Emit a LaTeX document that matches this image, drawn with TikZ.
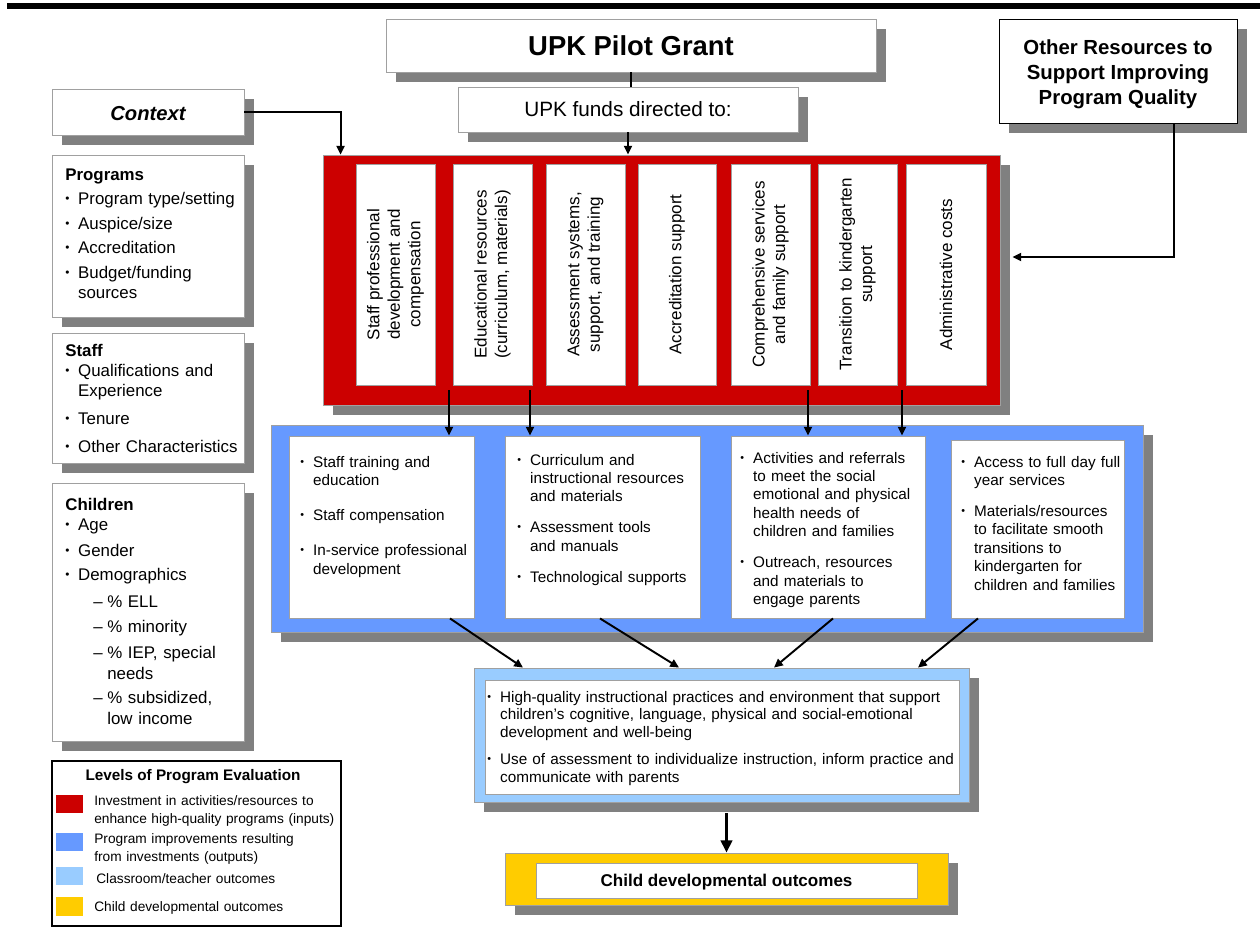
\documentclass[tikz,border=0pt]{standalone}
\usepackage{fontspec}
\setmainfont{Liberation Sans}
\usetikzlibrary{arrows.meta, fit, shadows, calc}

\definecolor{invred}{HTML}{CC0000}
\definecolor{outblue}{HTML}{6699FF}
\definecolor{clsblue}{HTML}{99CCFF}
\definecolor{devgold}{HTML}{FFCC00}
\definecolor{shade}{HTML}{808080}
\definecolor{rim}{HTML}{A0A0A0}

\newcommand{\bul}{\makebox[7.3pt][l]{\raisebox{0.12em}{\scalebox{0.7}{\textbullet}}}}
\newcommand{\cont}{\hspace*{7.3pt}}
\newcommand{\dashitem}{\hspace*{15.9pt}\makebox[8pt][l]{--}}
\newcommand{\dashcont}{\hspace*{23.9pt}}

\begin{document}
\begin{tikzpicture}[x=0.02cm, y=-0.02cm,
    box/.style={draw=rim, fill=white, inner sep=0pt, line width=0.5pt},
    shad/.style={drop shadow={shadow xshift=0.2cm, shadow yshift=-0.2cm, fill=shade, opacity=1}},
    panel/.style={draw=rim, inner sep=0pt, line width=0.5pt, shad},
    txt/.style={inner sep=0pt, anchor=base west, align=left, text width=4cm},
    lefttxt/.style={font=\fontsize{9.6}{11.4}\selectfont},
    midtxt/.style={font=\fontsize{8.7}{10.5}\selectfont},
    keytxt/.style={font=\fontsize{7.8}{10.2}\selectfont},
    coltxt/.style={rotate=90, align=center, font=\fontsize{9.7}{11.7}\selectfont},
    arr/.style={line width=1.1pt, -{Triangle[length=5pt, width=4.6pt]}},
    line/.style={line width=1.1pt},
  ]
  \useasboundingbox (0,0) rectangle (1260,931);
  \fill (7,3) rectangle (1260,9);

  % top row
  \node[box, shad, fit={(386,19)(876,72)}] (grant) {};
  \node[font=\fontsize{15.6}{18}\selectfont\bfseries] (grant-txt) at (grant) {UPK Pilot Grant};
  \node[box, shad, fit={(458,87)(798,132)}] (funds) {};
  \node[font=\fontsize{11.8}{14}\selectfont] (funds-txt) at (funds) {UPK funds directed to:};
  \node[box, draw=black, shad, fit={(999,19)(1237,123)}] (other) {};
  \node[align=center, font=\fontsize{11.6}{14.2}\selectfont\bfseries] (other-txt) at ($(other)+(0,3)$)
    {Other Resources to\\Support Improving\\Program Quality};

  % context column
  \node[box, shad, fit={(52,89)(244,135)}] (context) {};
  \node[font=\fontsize{11.5}{14}\selectfont\bfseries\itshape] (context-txt) at ($(context)+(0,2)$) {Context};
  \node[box, shad, fit={(52,155)(244,317)}] (programs) {};
  \node[txt, lefttxt] (programs-txt) at (65,180) {\textbf{Programs}\\[2.8pt]
    \bul Program type/setting\\[2.3pt]
    \bul Auspice/size\\[2.8pt]
    \bul Accreditation\\[2.8pt]
    \bul Budget/funding\\
    \cont sources};
  \node[box, shad, fit={(52,333)(244,463)}] (staff) {};
  \node[txt, lefttxt] (staff-txt) at (65,356) {\textbf{Staff}\\
    \bul Qualifications and\\
    \cont Experience\\[5pt]
    \bul Tenure\\[4.6pt]
    \bul Other Characteristics};
  \node[box, shad, fit={(52,483)(244,741)}] (children) {};
  \node[txt, lefttxt, font=\fontsize{9.6}{11.7}\selectfont] (children-txt) at (65,510) {\textbf{Children}\\
    \bul Age\\[2.8pt]
    \bul Gender\\[2.5pt]
    \bul Demographics\\[3.5pt]
    \dashitem \% ELL\\[2.5pt]
    \dashitem \% minority\\[3pt]
    \dashitem \% IEP, special\\
    \dashcont needs\\[2.5pt]
    \dashitem \% subsidized,\\
    \dashcont low income};

  % inputs
  \node[panel, fill=invred, fit={(323,155)(1000,405)}] (inputs) {};
  \foreach \xa/\xb/\lbl [count=\i] in {
      356/435/{Staff professional\\development and\\compensation},
      453/532/{Educational resources\\(curriculum, materials)},
      546/625/{Assessment systems,\\support, and training},
      638/716/{Accreditation support},
      731/810/{Comprehensive services\\and family support},
      818/897/{Transition to kindergarten\\support},
      906/986/{Administrative costs}} {
    \node[box, fit={(\xa,164)(\xb,385)}] (col\i) {};
    \node[coltxt] at (col\i) {\lbl};
  }

  % outputs
  \node[panel, fill=outblue, fit={(271,425)(1143,632)}] (outputs) {};
  \node[box, fit={(289,436)(474,618)}] (b1) {};
  \node[box, fit={(505,436)(700,618)}] (b2) {};
  \node[box, fit={(731,436)(925,618)}] (b3) {};
  \node[box, fit={(951,440)(1124,618)}] (b4) {};
  \node[txt, midtxt] (b1-txt) at (300,467) {\bul Staff training and\\
    \cont education\\[9.6pt]
    \bul Staff compensation\\[9.4pt]
    \bul In-service professional\\
    \cont development};
  \node[txt, midtxt] (b2-txt) at (517,465) {\bul Curriculum and\\
    \cont instructional resources\\
    \cont and materials\\[7pt]
    \bul Assessment tools\\
    \cont and manuals\\[7.3pt]
    \bul Technological supports};
  \node[txt, midtxt] (b3-txt) at (740,463) {\bul Activities and referrals\\
    \cont to meet the social\\
    \cont emotional and physical\\
    \cont health needs of\\
    \cont children and families\\[7pt]
    \bul Outreach, resources\\
    \cont and materials to\\
    \cont engage parents};
  \node[txt, midtxt] (b4-txt) at (961,467) {\bul Access to full day full\\
    \cont year services\\[7pt]
    \bul Materials/resources\\
    \cont to facilitate smooth\\
    \cont transitions to\\
    \cont kindergarten for\\
    \cont children and families};

  % classroom and child outcomes
  \node[panel, fill=clsblue, fit={(474,668)(969,802)}] (classroom) {};
  \node[box, fit={(485,680)(959,794)}] (classroom-in) {};
  \node[txt, midtxt, text width=9.6cm, font=\fontsize{8.7}{10.2}\selectfont] (classroom-txt) at (487,702)
    {\bul High-quality instructional practices and environment that support\\
    \cont children's cognitive, language, physical and social-emotional\\
    \cont development and well-being\\[5pt]
    \bul Use of assessment to individualize instruction, inform practice and\\
    \cont communicate with parents};
  \node[panel, fill=devgold, fit={(505,853)(948,905)}] (child) {};
  \node[box, fit={(536,863)(917,898)}] (child-in) {};
  \node[font=\fontsize{9.7}{12}\selectfont\bfseries] (child-txt) at ($(child-in)+(0,1.5)$) {Child developmental outcomes};

  % legend
  \node[draw=black, line width=0.6pt, inner sep=0pt, fit={(52,761)(341,926)}] (legend) {};
  \node[font=\fontsize{8.7}{10}\selectfont\bfseries] (key-title) at (193,777) {Levels of Program Evaluation};
  \foreach \c/\ya/\yb in {invred/795/813, outblue/833/851, clsblue/867/885, devgold/897/916}
    \fill[\c] (56,\ya) rectangle (83,\yb);
  \node[txt, keytxt, text width=5cm] (key-in) at (94,805.5) {Investment in activities/resources to\\enhance high-quality programs (inputs)};
  \node[txt, keytxt, text width=5cm] (key-out) at (94,843.5) {Program improvements resulting\\from investments (outputs)};
  \node[txt, keytxt, text width=5cm] (key-cls) at (96,883.5) {Classroom/teacher outcomes};
  \node[txt, keytxt, text width=5cm] (key-dev) at (94,911.5) {Child developmental outcomes};

  % connectors
  \draw[line] (grant.south) -- (grant.south |- funds.north);
  \draw[arr] (funds.south) -- (funds.south |- inputs.north);
  \draw[arr] (context.east) -| ($(inputs.north west)+(18,0)$);
  \coordinate (other-out) at ($(other.south)+(56,0)$);
  \draw[arr] (other-out) |- ($(inputs.east)+(12,-23)$);

  \foreach \x/\b [count=\i] in {449/b1, 530/b2, 808/b3, 902/b3} {
    \coordinate (feed\i) at (\x,390);
    \draw[arr] (feed\i) -- (feed\i |- \b.north);
  }
  \foreach \xa/\b/\xb [count=\i] in {450/b1/523, 600/b2/679, 833/b3/774, 978/b4/918} {
    \coordinate (from\i) at (\xa,0);
    \coordinate (to\i) at (\xb,0);
    \draw[arr] (from\i |- \b.south) -- (to\i |- classroom.north);
  }
  \draw[line width=1.7pt, -{Triangle[length=7pt, width=6.5pt]}]
    ($(child.north |- classroom.south)+(0,11)$) -- (child.north);
\end{tikzpicture}
\end{document}
